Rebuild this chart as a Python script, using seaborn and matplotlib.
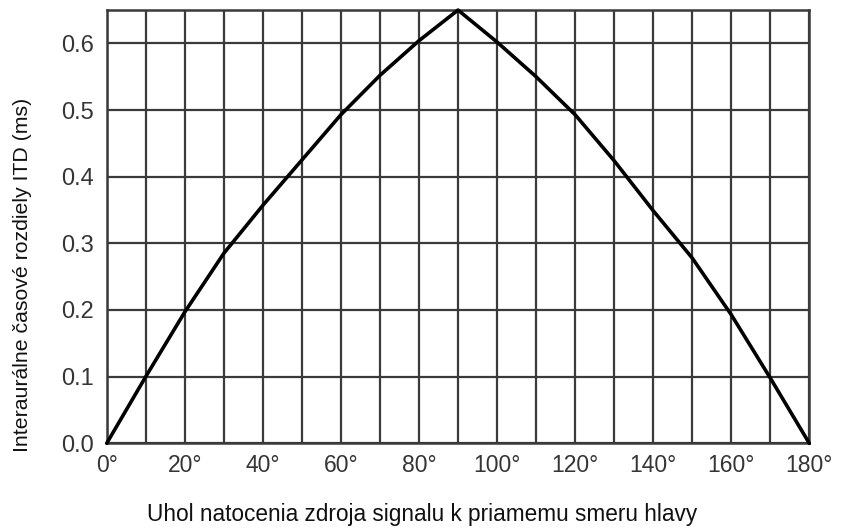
import matplotlib
matplotlib.use("Agg")
import matplotlib.pyplot as plt
import seaborn as sns
import pandas as pd

# Data
angle_deg = [0, 10, 20, 30, 40, 50, 60, 70, 80, 90,
             100, 110, 120, 130, 140, 150, 160, 170, 180]
itd_ms = [0.0, 0.100, 0.197, 0.285, 0.357, 0.425, 0.493, 0.552, 0.604, 0.650,
          0.602, 0.550, 0.493, 0.424, 0.349, 0.278, 0.193, 0.098, 0.0]

x_ticks = [0, 20, 40, 60, 80, 100, 120, 140, 160, 180]
x_tick_labels = [f"{v}°" for v in x_ticks]
y_ticks = [0.0, 0.1, 0.2, 0.3, 0.4, 0.5, 0.6]
y_tick_labels = [f"{v:.1f}" for v in y_ticks]

x_label = "Uhol natocenia zdroja signalu k priamemu smeru hlavy"
y_label = "Interaurálne časové rozdiely ITD (ms)"

df = pd.DataFrame({"angle": angle_deg, "itd": itd_ms})

sns.set_theme(style="white")
plt.rcParams["font.family"] = ["Liberation Sans", "DejaVu Sans"]

fig = plt.figure(figsize=(8.41, 5.29), dpi=100)
ax = fig.add_axes([0.1269, 0.162, 0.8354, 0.819])

grid_color = "#3a3a3a"
for gx in range(0, 181, 10):
    ax.axvline(gx, color=grid_color, lw=1.6, zorder=1)
for gy in y_ticks:
    ax.axhline(gy, color=grid_color, lw=1.6, zorder=1)

sns.lineplot(data=df, x="angle", y="itd", ax=ax, color="black", lw=2.6,
             zorder=3, clip_on=False)

ax.set_xlim(0, 180)
ax.set_ylim(0, 0.65)
ax.set_xticks(x_ticks)
ax.set_xticklabels(x_tick_labels)
ax.set_yticks(y_ticks)
ax.set_yticklabels(y_tick_labels)
ax.tick_params(axis="both", length=0, labelcolor="#353535")
ax.tick_params(axis="x", pad=8, labelsize=16.5)
ax.tick_params(axis="y", pad=9, labelsize=17)

for sp in ax.spines.values():
    sp.set_color(grid_color)
    sp.set_linewidth(1.8)

ax.set_xlabel(x_label, fontsize=16.3, color="#111111")
ax.set_ylabel(y_label, fontsize=15.3, color="#111111")
ax.xaxis.set_label_coords(0.449, -0.138)
ax.yaxis.set_label_coords(-0.106, 0.388)

fig.savefig("out.png", dpi=100)
